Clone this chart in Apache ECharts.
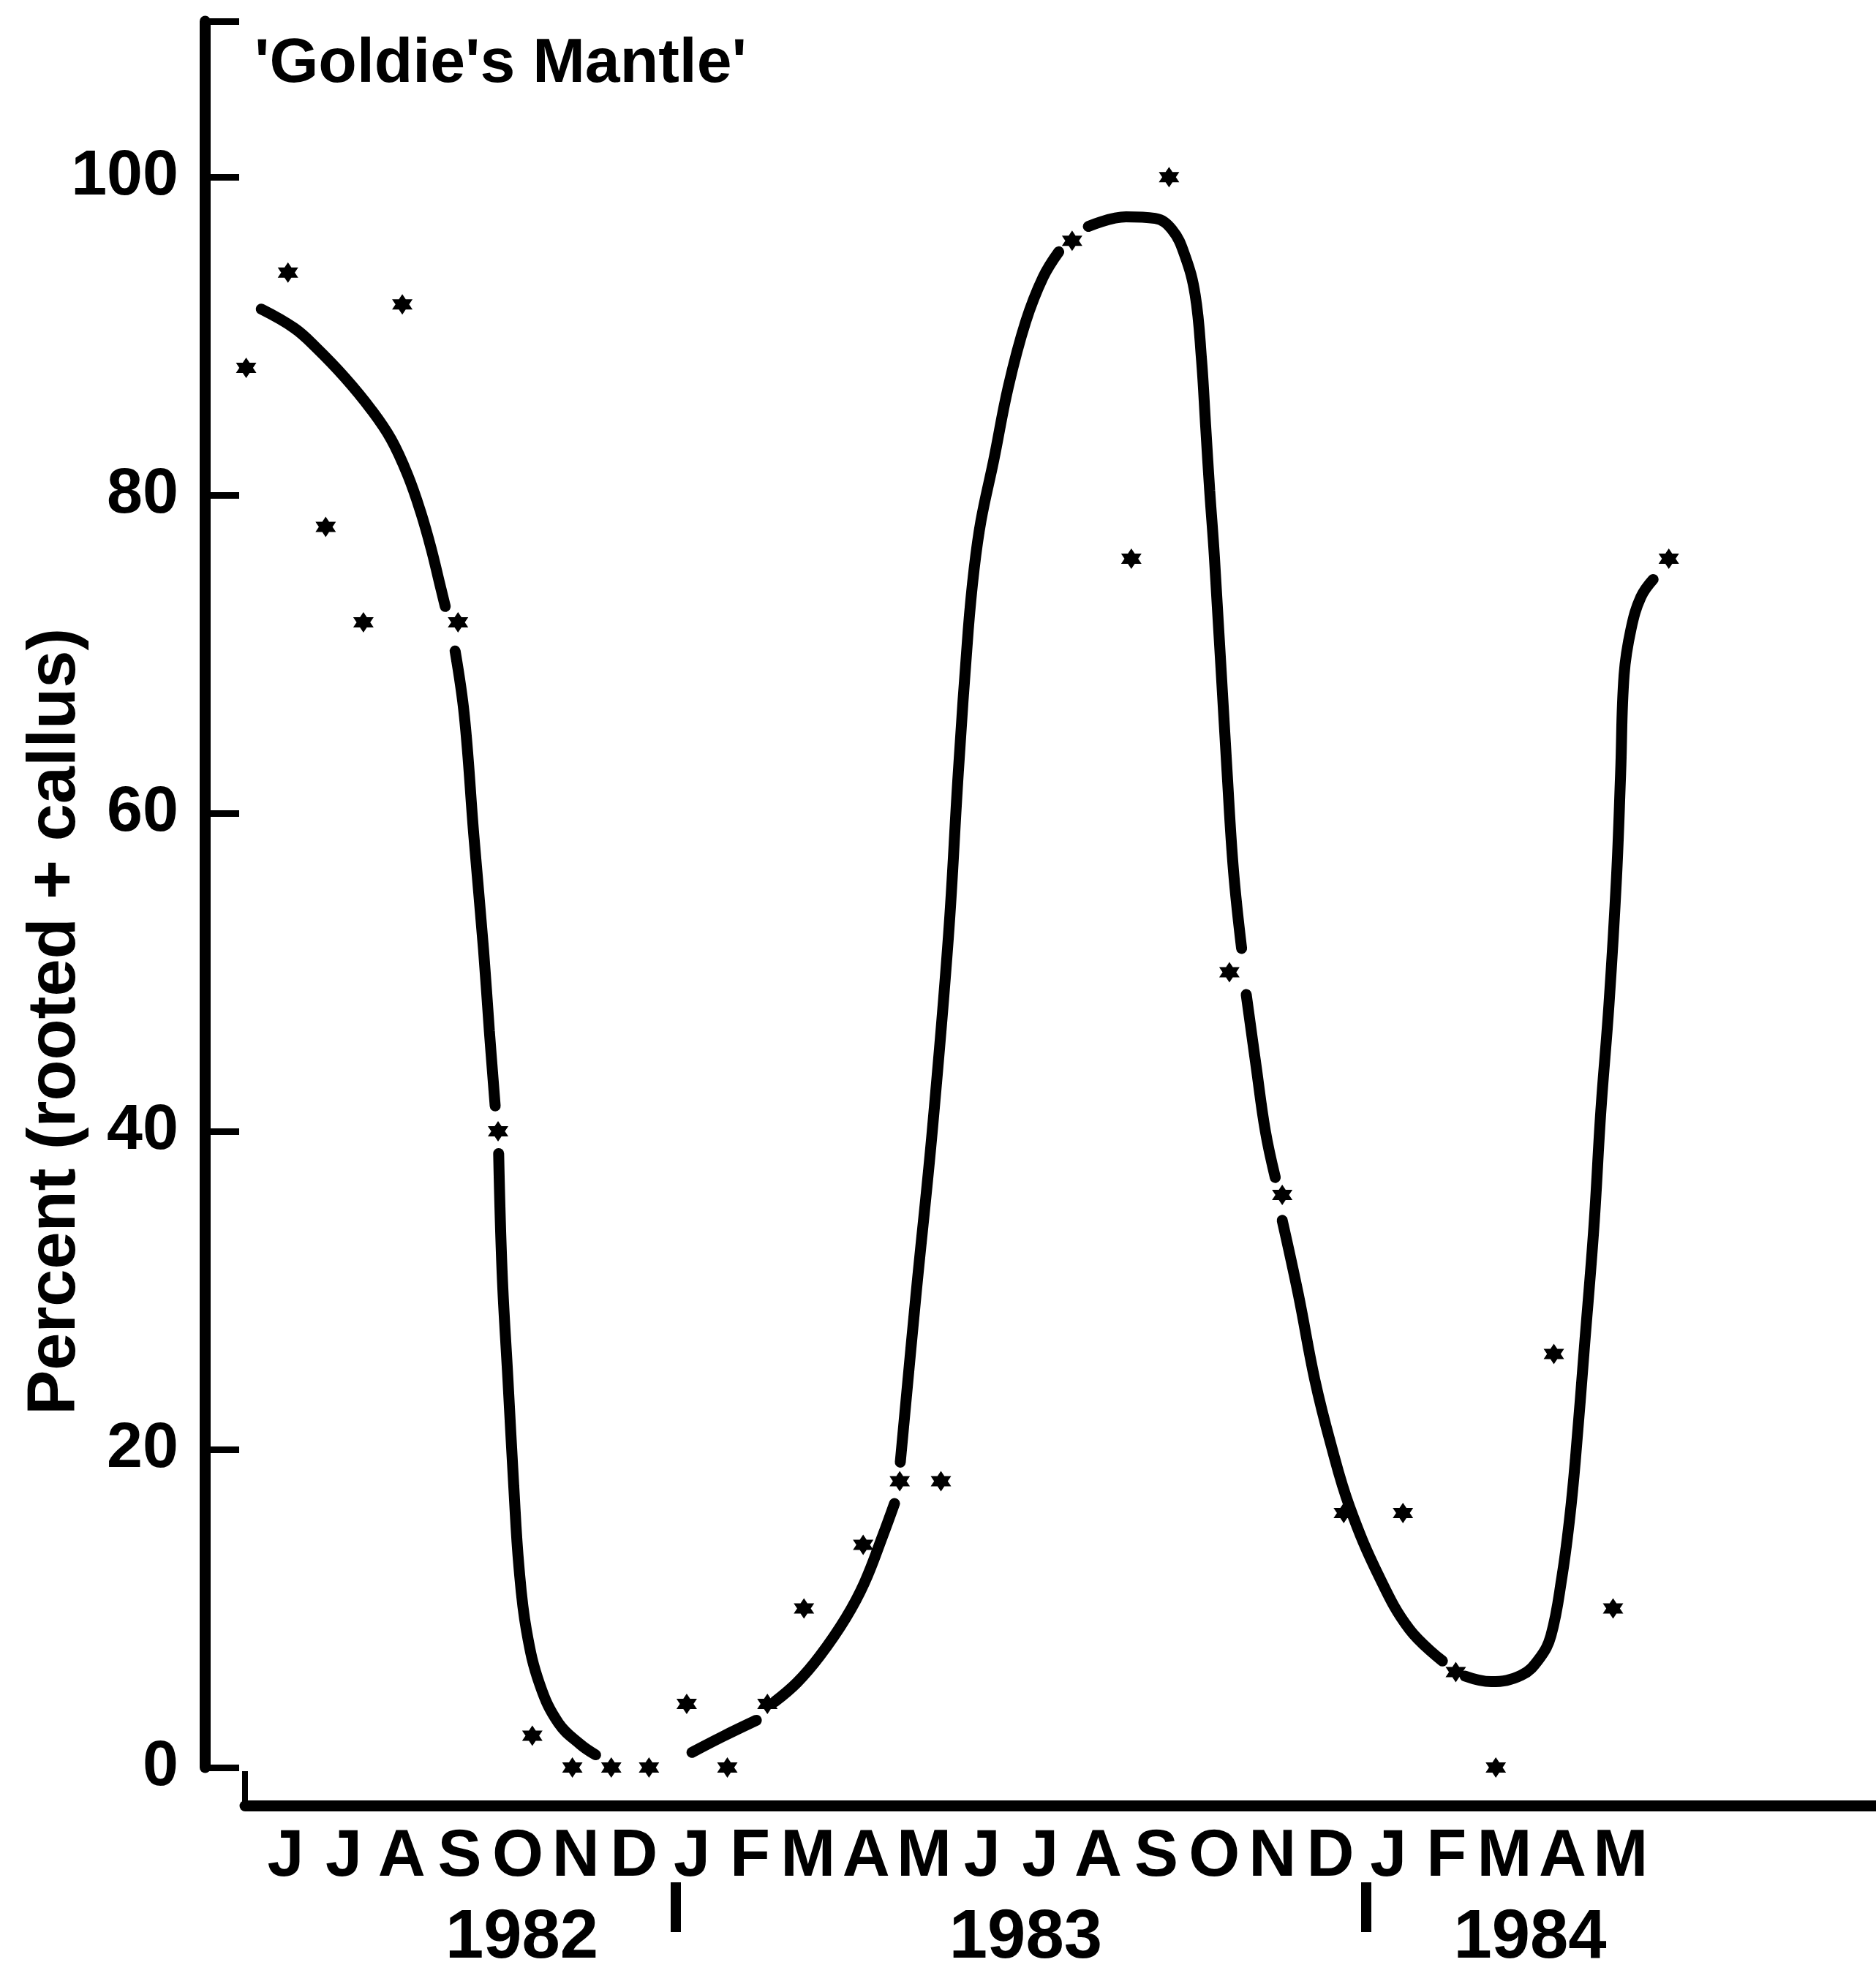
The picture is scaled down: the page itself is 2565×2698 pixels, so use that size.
<!DOCTYPE html>
<html>
<head>
<meta charset="utf-8">
<title>Goldie's Mantle</title>
<script src="https://cdn.jsdelivr.net/npm/echarts@6/dist/echarts.min.js"></script>
<style>
  html, body { margin: 0; padding: 0; background: #fff; }
  #chart { width: 2565px; height: 2698px; }
</style>
</head>
<body>
<div id="chart"></div>
<script>
// x is counted in months from June 1982 (first J = 0)
const monthLetters = ['J','J','A','S','O','N','D','J','F','M','A','M','J','J','A','S','O','N','D','J','F','M','A','M'];
const monthTicks = [0,1,2,3,4,5,6,7,8,9,10,11,12,13,14,15,16,17,18,19,20,21,22,23];
const yearLabels = ['1982', '1983', '1984'];
const yearPositions = [4.07, 12.75, 21.44];
const yearBreaks = [6.72, 18.61];
const yTicks = [0, 20, 40, 60, 80, 100];

// measured points (stars)
const pointMonths = [-0.68, 0.04, 0.69, 1.34, 2.01, 2.97, 3.66, 4.25, 4.94, 5.61,
  6.26, 6.91, 7.61, 8.30, 8.93, 9.95, 10.58, 11.29, 13.55, 14.57,
  15.22, 16.26, 17.17, 18.23, 19.25, 20.16, 20.85, 21.85, 22.87, 23.83];
const pointValues = [88, 94, 78, 72, 92, 72, 40, 2, 0, 0,
  0, 4, 0, 4, 10, 14, 18, 18, 96, 76,
  100, 50, 36, 16, 16, 6, 0, 26, 10, 76];

// fitted curve, null = break in the drawn line
const curveMonths = [
  -0.42, 0.15, 0.52, 1.02, 1.47, 1.82, 2.11, 2.33, 2.51, 2.65, 2.75, 2.85,
  2.92, 3.08, 3.24, 3.41, 3.51, 3.61, 3.64,
  3.67, 3.73, 3.83, 3.93, 4.02, 4.15, 4.38, 4.70, 5.08, 5.34, 6.2,
  7.00, 7.53, 8.11, 8.3,
  8.43, 8.81, 9.20, 9.65, 9.97, 10.29, 10.49, 10.55,
  10.59, 10.86, 11.14, 11.42, 11.59, 11.76, 11.86, 11.98, 12.20, 12.45, 12.75, 13.05, 13.32, 13.55,
  13.83, 14.48, 14.98, 15.27, 15.49, 15.67, 15.78, 15.85, 15.92, 16.0, 16.22, 16.33, 16.47, 16.5,
  16.55, 16.72, 16.88, 17.05, 17.1,
  17.17, 17.45, 17.73, 18.01, 18.33, 18.84, 19.36, 19.93, 20.1,
  20.32, 20.77, 21.29, 21.60, 21.80, 21.99, 22.12, 22.22, 22.38, 22.54, 22.66, 22.80, 22.93, 23.00, 23.06, 23.18, 23.35, 23.56
];
const curveValues = [
  91.7, 90.5, 89.3, 87.4, 85.4, 83.5, 81.2, 78.9, 76.6, 74.5, 73.0, null,
  70.2, 66.1, 58.7, 51.4, 46.3, 41.6, null,
  38.6, 31.1, 24.4, 17.7, 12.6, 8.6, 5.2, 2.8, 1.45, 0.8, null,
  0.95, 1.95, 2.97, null,
  4.15, 5.34, 7.0, 9.4, 11.6, 14.6, 16.6, null,
  19.2, 29.7, 40.0, 52.3, 62.6, 71.5, 75.3, 78.4, 82.2, 86.8, 90.9, 93.7, 95.3, null,
  96.9, 97.5, 97.4, 96.7, 95.1, 92.6, 88.5, 84.4, 80.3, 76.2, 62.6, 56.4, 51.5, null,
  48.6, 44.1, 40.0, 37.1, null,
  34.4, 29.7, 24.4, 20.3, 16.4, 12.0, 8.7, 6.7, null,
  5.75, 5.4, 5.8, 6.85, 8.3, 12.0, 15.6, 19.3, 26.6, 34.0, 41.3, 48.0, 56.0, 62.5, 68.7, 71.6, 73.6, 74.7
];

const font = "'Liberation Sans', Arial, Helvetica, sans-serif";
const xMin = -0.70;
const xMax = 27.40;
const yMax = 109.8;
const star = 'path://M0,-10L2.89,-5L8.66,-5L5.77,0L8.66,5L2.89,5L0,10L-2.89,5L-8.66,5L-5.77,0L-8.66,-5L-2.89,-5Z';

const chart = echarts.init(document.getElementById('chart'));

const option = {
  animation: false,
  backgroundColor: '#fff',
  title: {
    text: "'Goldie's Mantle'",
    left: 348,
    top: 45,
    padding: 0,
    textStyle: { fontFamily: font, fontWeight: 'bold', fontSize: 86, color: '#000' }
  },
  grid: { left: 335, right: 0, top: 29, bottom: 281, containLabel: false, outerBoundsMode: 'none' },
  xAxis: [
    {
      type: 'value',
      position: 'bottom',
      min: xMin,
      max: xMax,
      offset: 52,
      axisLine: { show: true, onZero: false, lineStyle: { color: '#000', width: 15 } },
      axisTick: { show: true, inside: true, length: 47, customValues: [xMin], lineStyle: { color: '#000', width: 8 } },
      axisLabel: {
        customValues: monthTicks,
        margin: 26,
        formatter: v => monthLetters[Math.round(v)],
        fontFamily: font, fontWeight: 'bold', fontSize: 90, color: '#000'
      },
      splitLine: { show: false }
    },
    {
      type: 'value',
      position: 'bottom',
      min: xMin,
      max: xMax,
      offset: 157,
      axisLine: { show: false, onZero: false },
      axisTick: { show: true, length: 68, customValues: yearBreaks, lineStyle: { color: '#000', width: 14 } },
      axisLabel: {
        customValues: yearPositions,
        margin: 30,
        formatter: v => {
          const i = yearPositions.findIndex(p => Math.abs(p - v) < 0.01);
          return i >= 0 ? yearLabels[i] : '';
        },
        fontFamily: font, fontWeight: 'bold', fontSize: 94, color: '#000'
      },
      splitLine: { show: false }
    }
  ],
  yAxis: {
    type: 'value',
    min: 0,
    max: yMax,
    offset: 55,
    name: 'Percent (rooted + callus)',
    nameLocation: 'middle',
    nameGap: 157,
    nameMoveOverlap: false,
    nameTextStyle: { fontFamily: font, fontWeight: 'bold', fontSize: 92, color: '#000', padding: [0, 348, 0, 0] },
    axisLine: { show: true, onZero: false, lineStyle: { color: '#000', width: 15 } },
    axisTick: { show: true, inside: true, length: 47, customValues: yTicks.concat([yMax]), lineStyle: { color: '#000', width: 9 } },
    axisLabel: { customValues: yTicks, margin: 36, fontFamily: font, fontWeight: 'bold', fontSize: 88, color: '#000' },
    splitLine: { show: false }
  },
  series: [
    {
      type: 'line',
      data: curveMonths.map((m, i) => [m, curveValues[i]]),
      smooth: 0.4,
      showSymbol: false,
      symbol: 'none',
      connectNulls: false,
      silent: true,
      z: 2,
      lineStyle: { color: '#000', width: 15, cap: 'round' }
    },
    {
      type: 'scatter',
      data: pointMonths.map((m, i) => [m, pointValues[i]]),
      symbol: star,
      symbolSize: 28,
      itemStyle: { color: '#000', opacity: 1 },
      z: 3
    }
  ]
};

chart.setOption(option);
</script>
</body>
</html>
